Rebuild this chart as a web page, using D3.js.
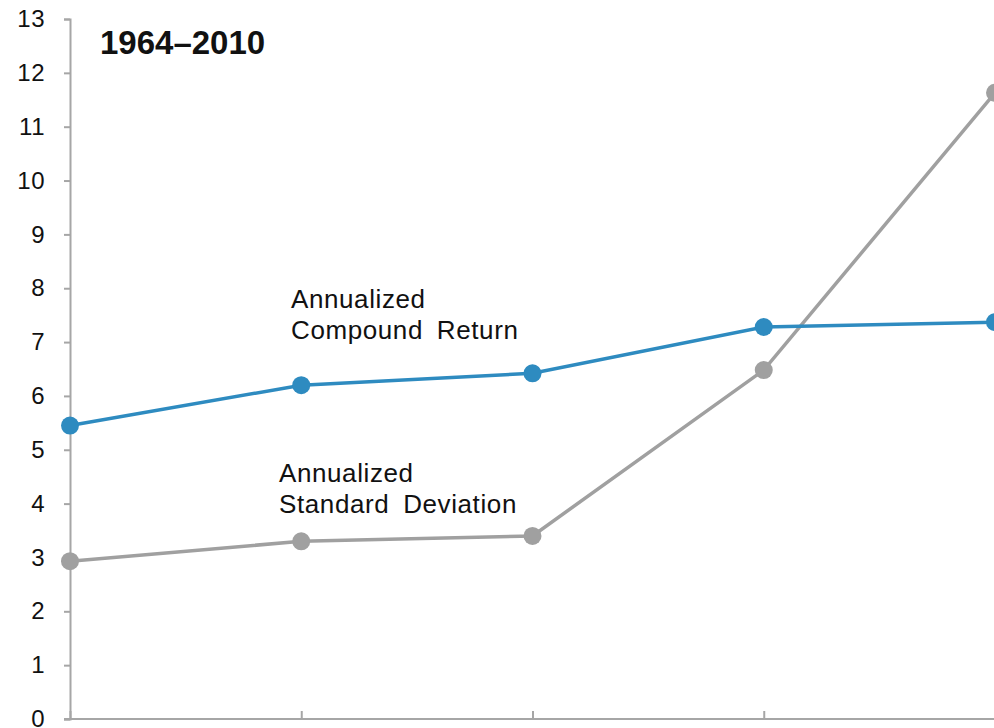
<!DOCTYPE html>
<html>
<head>
<meta charset="utf-8">
<script src="https://cdn.jsdelivr.net/npm/d3@7"></script>
<style>
  html, body { margin: 0; padding: 0; background: #fff; }
  svg { display: block; }
  text { font-family: "Liberation Sans", Arial, sans-serif; fill: #111; }
</style>
</head>
<body>
<svg id="chart" width="994" height="728"></svg>
<script>
// Periods along the horizontal axis (unlabelled tick positions)
const categories = ["p1", "p2", "p3", "p4", "p5"];
// Annualized compound return (%)
const compoundReturn = [5.45, 6.2, 6.42, 7.28, 7.37];
// Annualized standard deviation (%)
const standardDeviation = [2.93, 3.3, 3.4, 6.48, 11.63];
// Y axis ticks
const yTicks = [0, 1, 2, 3, 4, 5, 6, 7, 8, 9, 10, 11, 12, 13];

const svg = d3.select("#chart");
const axisColor = "#a6a6a6";

const x = d3.scalePoint().domain(categories).range([70, 995]);
const y = d3.scaleLinear().domain([0, 13]).range([719, 19]);

// Y axis
const yAxis = svg.append("g").attr("transform", "translate(70,0)")
  .call(d3.axisLeft(y).tickValues(yTicks).tickSize(6).tickPadding(19).tickFormat(d3.format("d")));
yAxis.select(".domain").attr("stroke", axisColor).attr("stroke-width", 2);
yAxis.selectAll(".tick line").attr("stroke", axisColor).attr("stroke-width", 2);
yAxis.selectAll(".tick text").style("font-size", "24px").attr("fill", "#111")
  .style("letter-spacing", "0.5px")
  .style("font-family", "Liberation Sans, Arial, sans-serif");

// X axis: ticks pointing up, no labels
const xAxis = svg.append("g").attr("transform", "translate(0,719)")
  .call(d3.axisBottom(x).tickSize(-8).tickFormat(""));
xAxis.select(".domain").attr("stroke", axisColor).attr("stroke-width", 2)
  .attr("d", "M64,0H994");
xAxis.selectAll(".tick line").attr("stroke", axisColor).attr("stroke-width", 2);

const line = d3.line().x((d, i) => x(categories[i])).y(d => y(d));

function drawSeries(values, color) {
  svg.append("path").datum(values)
    .attr("fill", "none").attr("stroke", color).attr("stroke-width", 3.5)
    .attr("d", line);
  svg.append("g").selectAll("circle").data(values).join("circle")
    .attr("cx", (d, i) => x(categories[i]))
    .attr("cy", d => y(d))
    .attr("r", 9)
    .attr("fill", color);
}

drawSeries(standardDeviation, "#a0a0a0");
drawSeries(compoundReturn, "#2e8bc0");

// Title
svg.append("text").attr("x", 100).attr("y", 54)
  .style("font-size", "33px").style("font-weight", "bold").text("1964–2010");

// Series labels
function label(xPos, yPos, lines) {
  const t = svg.append("text").attr("x", xPos).attr("y", yPos)
    .style("font-size", "26px").style("letter-spacing", "0.6px").style("word-spacing", "6px");
  lines.forEach((s, i) => {
    t.append("tspan").attr("x", xPos).attr("dy", i === 0 ? 0 : 31).text(s);
  });
}
label(291, 308, ["Annualized", "Compound Return"]);
label(279, 482, ["Annualized", "Standard Deviation"]);
</script>
</body>
</html>
